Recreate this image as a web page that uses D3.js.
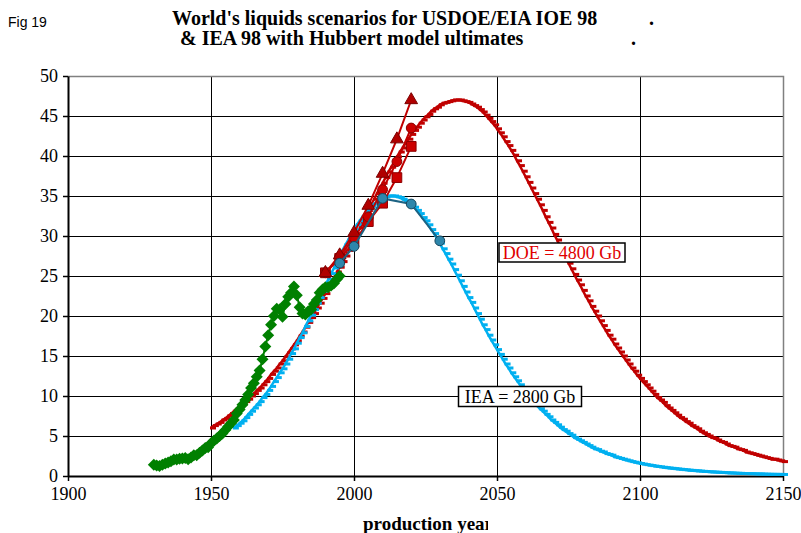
<!DOCTYPE html>
<html>
<head>
<meta charset="utf-8">
<script src="https://cdn.jsdelivr.net/npm/d3@7"></script>
<style>
body{margin:0;background:#fff;}
svg{display:block;}
text{font-family:"Liberation Serif","Times New Roman",serif;}
</style>
</head>
<body>
<script>
// Hubbert model, DOE ultimate 4800 Gb, yearly from 1950
var doeStart=1950,
doeCurve=[6.0,6.3,6.5,6.7,7.0,7.2,7.5,7.8,8.1,8.4,
  8.7,9.0,9.3,9.6,10.0,10.3,10.7,11.0,11.4,11.8,
  12.2,12.7,13.1,13.5,14.0,14.4,14.9,15.4,15.9,16.4,
  16.9,17.5,18.0,18.6,19.2,19.8,20.3,21.0,21.6,22.2,
  22.8,23.5,24.1,24.8,25.5,26.1,26.8,27.5,28.2,28.9,
  29.6,30.3,31.0,31.8,32.5,33.2,33.9,34.6,35.3,36.0,
  36.6,37.3,38.0,38.6,39.2,39.9,40.5,41.0,41.6,42.1,
  42.7,43.2,43.6,44.1,44.5,44.9,45.2,45.6,45.9,46.1,
  46.4,46.6,46.7,46.8,46.9,47.0,47.0,47.0,46.9,46.8,
  46.7,46.5,46.3,46.1,45.8,45.5,45.1,44.7,44.3,43.9,
  43.4,42.9,42.4,41.8,41.3,40.7,40.1,39.4,38.8,38.1,
  37.4,36.7,36.0,35.3,34.6,33.9,33.2,32.4,31.7,31.0,
  30.2,29.5,28.8,28.1,27.3,26.6,25.9,25.2,24.5,23.9,
  23.2,22.5,21.9,21.2,20.6,20.0,19.4,18.8,18.2,17.6,
  17.1,16.5,16.0,15.5,15.0,14.5,14.0,13.5,13.1,12.6,
  12.2,11.8,11.4,11.0,10.6,10.2,9.8,9.5,9.2,8.8,
  8.5,8.2,7.9,7.6,7.3,7.1,6.8,6.6,6.3,6.1,
  5.9,5.6,5.4,5.2,5.0,4.8,4.7,4.5,4.3,4.2,
  4.0,3.8,3.7,3.6,3.4,3.3,3.2,3.0,2.9,2.8,
  2.7,2.6,2.5,2.4,2.3,2.2,2.1,2.1,2.0,1.9,
  1.8];

// Hubbert model, IEA ultimate 2800 Gb, yearly from 1958
var ieaStart=1958,
ieaCurve=[6.0,6.3,
  6.6,6.9,7.3,7.7,8.1,8.5,8.9,9.3,9.8,10.2,
  10.7,11.2,11.8,12.3,12.9,13.4,14.0,14.6,15.3,15.9,
  16.6,17.3,17.9,18.7,19.4,20.1,20.8,21.6,22.3,23.1,
  23.8,24.6,25.3,26.0,26.8,27.5,28.2,28.9,29.5,30.2,
  30.8,31.4,31.9,32.4,32.9,33.3,33.7,34.0,34.3,34.6,
  34.8,34.9,35.0,35.0,35.0,34.9,34.8,34.6,34.4,34.2,
  33.9,33.6,33.2,32.8,32.3,31.9,31.4,30.8,30.3,29.7,
  29.1,28.4,27.8,27.1,26.5,25.8,25.1,24.4,23.7,23.0,
  22.3,21.7,21.0,20.3,19.6,18.9,18.3,17.6,17.0,16.4,
  15.8,15.2,14.6,14.0,13.5,12.9,12.4,11.9,11.4,11.0,
  10.5,10.1,9.6,9.2,8.8,8.4,8.1,7.7,7.4,7.0,
  6.7,6.4,6.1,5.8,5.6,5.3,5.1,4.8,4.6,4.4,
  4.2,4.0,3.8,3.6,3.4,3.3,3.1,3.0,2.8,2.7,
  2.6,2.4,2.3,2.2,2.1,2.0,1.9,1.8,1.72,1.64,
  1.56,1.49,1.42,1.36,1.3,1.24,1.19,1.14,1.09,1.04,
  1.0,0.96,0.92,0.88,0.84,0.8,0.77,0.73,0.7,0.67,
  0.64,0.61,0.58,0.56,0.53,0.51,0.49,0.47,0.45,0.43,
  0.41,0.39,0.37,0.36,0.34,0.33,0.31,0.3,0.29,0.28,
  0.27,0.26,0.25,0.24,0.23,0.22,0.21,0.21,0.2,0.2,
  0.19];

// past world liquids production, yearly from 1930
var histStart=1930,
histProd=[1.4,1.3,1.25,1.4,1.55,1.7,1.85,2.05,2.05,2.15,
  2.2,2.25,2.1,2.3,2.6,2.6,2.9,3.2,3.5,3.6,
  4.1,4.4,4.7,5.0,5.3,5.75,6.2,6.6,7.0,7.8,
  8.3,8.9,9.5,10.2,11.0,11.6,12.4,13.2,14.6,16.2,
  17.6,18.9,20.0,20.9,20.8,19.9,21.5,22.4,22.9,23.7,
  22.6,21.1,20.3,20.2,20.6,20.8,21.5,22.0,22.9,23.3,
  23.6,23.6,23.8,24.1,24.6,25.0];

// USDOE/EIA IOE 98 scenarios
var doeYears=[1990,1995,2000,2005,2010,2015,2020],
doeHigh=[25.4,27.6,30.4,33.8,37.8,42.1,47.0],
doeRef=[25.4,27.4,29.8,32.4,35.8,39.3,43.5],
doeLow=[25.4,27.2,29.2,31.8,34.1,37.3,41.2];

// IEA 98 scenario
var ieaYears=[1995,2000,2010,2020,2030],
ieaRef=[26.6,28.7,34.7,34.0,29.4];

var xTicks=[1900,1950,2000,2050,2100,2150],
yTicks=[0,5,10,15,20,25,30,35,40,45,50];

var W=801,H=533;
var x=d3.scaleLinear().domain([1900,2150]).range([68,783]),
    y=d3.scaleLinear().domain([0,50]).range([476,76]);

var svg=d3.select("body").append("svg").attr("width",W).attr("height",H);

var pts=function(start,vals){  // pair yearly values with years
  return vals.map(function(v,i){return [start+i,v];});
};
var zip=function(yrs,vals){
  return yrs.map(function(yr,i){return [yr,vals[i]];});
};

// gridlines
svg.append("g").selectAll("line.h").data(yTicks.slice(1,-1)).enter().append("line")
  .attr("x1",68).attr("x2",783).attr("y1",function(d){return y(d)+0.5;}).attr("y2",function(d){return y(d)+0.5;})
  .attr("stroke","#000").attr("stroke-width",1);
svg.append("g").selectAll("line.v").data(xTicks.slice(1,-1)).enter().append("line")
  .attr("y1",76).attr("y2",476).attr("x1",function(d){return Math.round(x(d))+0.5;}).attr("x2",function(d){return Math.round(x(d))+0.5;})
  .attr("stroke","#000").attr("stroke-width",1);
// frame top / right
svg.append("path").attr("d","M68,76.5H783.5V476").attr("fill","none").attr("stroke","#808080").attr("stroke-width",1.5);

// axes
var yAxis=d3.axisLeft(y).tickValues(yTicks).tickSize(5).tickSizeOuter(0).tickPadding(5);
var gy=svg.append("g").attr("transform","translate(68,0)").call(yAxis);
var xAxis=d3.axisBottom(x).tickValues(xTicks).tickFormat(d3.format("d")).tickSize(5).tickSizeOuter(0).tickPadding(6);
var gx=svg.append("g").attr("transform","translate(0,476)").call(xAxis);
[gy,gx].forEach(function(g){
  g.select(".domain").attr("stroke","#000").attr("stroke-width",2);
  g.selectAll(".tick line").attr("stroke","#000").attr("stroke-width",1.5);
  g.selectAll(".tick text").attr("fill","#000").style("font-size","18px")
    .style("font-family","'Liberation Serif','Times New Roman',serif");
});

var line=d3.line().x(function(d){return x(d[0]);}).y(function(d){return y(d[1]);});

// Hubbert curves with dash markers
var drawCurve=function(data,col){
  svg.append("path").datum(data).attr("d",line).attr("fill","none")
    .attr("stroke",col).attr("stroke-width",2.5);
  svg.append("g").selectAll("rect").data(data).enter().append("rect")
    .attr("x",function(d){return x(d[0])-1;}).attr("y",function(d){return y(d[1])-1.5;})
    .attr("width",6).attr("height",3).attr("fill",col);
};
drawCurve(pts(doeStart,doeCurve),"#c00000");
drawCurve(pts(ieaStart,ieaCurve),"#00b0f0");

// history, green diamonds
var hist=pts(histStart,histProd);
svg.append("path").datum(hist).attr("d",line).attr("fill","none")
  .attr("stroke","#008000").attr("stroke-width",2);
svg.append("g").selectAll("path").data(hist).enter().append("path")
  .attr("d","M0,-6L6,0L0,6L-6,0Z")
  .attr("transform",function(d){return "translate("+x(d[0])+","+y(d[1])+")";})
  .attr("fill","#008000");

// scenario lines with markers
var drawScen=function(data,sym,size,fill,edge,col){
  svg.append("path").datum(data).attr("d",line).attr("fill","none")
    .attr("stroke",col).attr("stroke-width",2);
  svg.append("g").selectAll("path").data(data).enter().append("path")
    .attr("d",d3.symbol().type(sym).size(size))
    .attr("transform",function(d){return "translate("+x(d[0])+","+y(d[1])+")";})
    .attr("fill",fill).attr("stroke",edge).attr("stroke-width",1);
};
drawScen(zip(doeYears,doeLow),d3.symbolSquare,95,"#cc0000","#8b0000","#c00000");
drawScen(zip(doeYears,doeRef),d3.symbolCircle,75,"#cc0000","#8b0000","#c00000");
drawScen(zip(doeYears,doeHigh),d3.symbolTriangle,70,"#b00000","#7a0000","#c00000");
drawScen(zip(ieaYears,ieaRef),d3.symbolCircle,75,"#2e86ab","#17475e","#1d6383");

// labels
var label=function(cx,cy,w,h,txt,col){
  svg.append("rect").attr("x",cx-w/2).attr("y",cy-h/2).attr("width",w).attr("height",h)
    .attr("fill","#fff").attr("stroke","#000").attr("stroke-width",1.5);
  svg.append("text").attr("x",cx).attr("y",cy+6).attr("text-anchor","middle")
    .style("font-size","18px").attr("fill",col).text(txt);
};
label(562,252.5,126,19,"DOE = 4800 Gb","#e00000");
label(520,396.5,123,20,"IEA = 2800 Gb","#000");

// titles
svg.append("text").attr("x",8).attr("y",27).style("font-family","'Liberation Sans',Arial,sans-serif")
  .style("font-size","14px").text("Fig 19");
svg.append("text").attr("x",172).attr("y",25).style("font-size","20px").style("font-weight","bold")
  .text("World's liquids scenarios for USDOE/EIA IOE 98");
svg.append("text").attr("x",649).attr("y",25).style("font-size","20px").style("font-weight","bold").text(".");
svg.append("text").attr("x",180).attr("y",45).style("font-size","20px").style("font-weight","bold")
  .text("& IEA 98 with Hubbert model ultimates");
svg.append("text").attr("x",631).attr("y",45).style("font-size","20px").style("font-weight","bold").text(".");

// axis title, clipped like the original
svg.append("clipPath").attr("id","xt").append("rect").attr("x",0).attr("y",500).attr("width",488).attr("height",33);
svg.append("text").attr("x",363).attr("y",530).attr("clip-path","url(#xt)")
  .style("font-size","19px").style("font-weight","bold").text("production year");
</script>
</body>
</html>
